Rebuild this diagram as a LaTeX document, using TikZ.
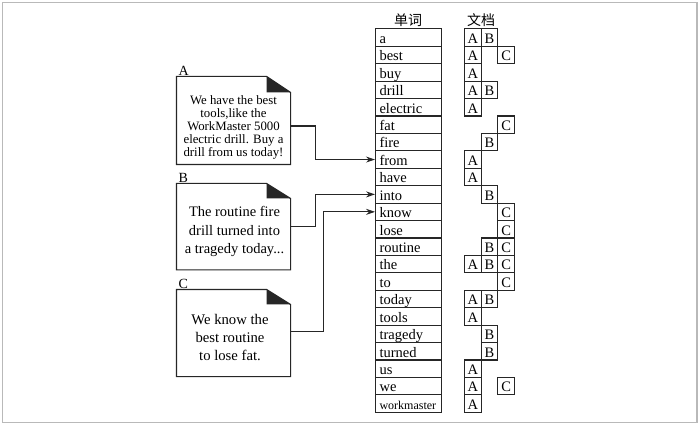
\documentclass[tikz,border=0pt]{standalone}
\usepackage{fontspec}
\setmainfont{Liberation Serif}
\newfontfamily\cjk{Noto Sans CJK SC}
\usetikzlibrary{arrows.meta}
\begin{document}
\begin{tikzpicture}[x=1pt,y=-1pt,line width=1.1pt,
  ink/.style={draw=black!85},
  word/.style={ink, anchor=north west, text width=57.7pt, inner xsep=4pt, inner ysep=0pt,
    minimum height=17.427pt, align=left, text height=12.5pt, text depth=1pt,
    font=\fontsize{14.5}{17}\selectfont},
  docbox/.style={ink, anchor=north west, minimum width=16.67pt, minimum height=17.427pt,
    inner sep=0pt, text height=12.5pt, text depth=1pt, font=\fontsize{14.5}{17}\selectfont},
  note/.style={minimum width=113pt, inner sep=0pt},
  conn/.style={ink, -{Stealth[length=9pt,width=6pt]}},
  lbl/.style={anchor=base west, inner sep=0pt, font=\fontsize{14}{16}\selectfont},
  head/.style={inner sep=0pt, font=\cjk\fontsize{14}{16}\selectfont}]
\useasboundingbox (0,0) rectangle (700,427);
\draw[gray!55, line width=1.5pt] (2.5,2.5) rectangle (697,422.5);

% headers
\node[head] (h1) at (408,20) {单词};
\node[head] (h2) at (481,20) {文档};

% word table and document columns
\foreach \w/\a/\b/\c [count=\i from 0] in {
  a/1/1/0, best/1/0/1, buy/1/0/0, drill/1/1/0, electric/1/0/0, fat/0/0/1,
  fire/0/1/0, from/1/0/0, have/1/0/0, into/0/1/0, know/0/0/1, lose/0/0/1,
  routine/0/1/1, the/1/1/1, to/0/0/1, today/1/1/0, tools/1/0/0, tragedy/0/1/0,
  turned/0/1/0, us/1/0/0, we/1/0/1, {\fontsize{12}{14}\selectfont workmaster}/1/0/0}{
  \pgfmathsetmacro\yy{28.3+\i*17.427}
  \node[word] (w\i) at (375,\yy) {\w};
  \ifnum\a=1 \node[docbox] (dA\i) at (464,\yy) {A};\fi
  \ifnum\b=1 \node[docbox] (dB\i) at (480.67,\yy) {B};\fi
  \ifnum\c=1 \node[docbox] (dC\i) at (497.33,\yy) {C};\fi
}

% document notes
\node[note, minimum height=87pt] (docA) at (233.5,120.5) {};
\node[note, minimum height=85.3pt] (docB) at (233.5,226.65) {};
\node[note, minimum height=86pt] (docC) at (233.5,333) {};
\foreach \d/\f in {docA/16, docB/15, docC/15}{
  \draw[ink] (\d.north west) -- ([xshift=-24pt]\d.north east) -- ([yshift=-\f pt]\d.north east)
    -- (\d.south east) -- (\d.south west) -- cycle;
  \fill[black!85] ([xshift=-24pt]\d.north east) -- ([xshift=-24pt,yshift=-\f pt]\d.north east)
    -- ([yshift=-\f pt]\d.north east) -- cycle;
}
\node[lbl] (lA) at (178,76) {A};
\node[lbl] (lB) at (178,182.5) {B};
\node[lbl] (lC) at (178,288.5) {C};

\node[align=center, inner sep=0pt, font=\fontsize{12.8}{12.8}\selectfont] (tA) at (233.5,127.5)
  {We have the best\\tools,like the\\WorkMaster 5000\\electric drill. Buy a\\drill from us today!};
\node[align=center, inner sep=0pt, font=\fontsize{14.5}{18.7}\selectfont] (tB) at (234.5,231.5)
  {The routine fire\\drill turned into\\a tragedy today...};
\node[align=center, inner sep=0pt, font=\fontsize{14.7}{17.8}\selectfont] (tC) at (230,337.5)
  {We know the\\best routine\\to lose fat.};

% connectors
\draw[conn] ([yshift=-5.5pt]docA.east) -- ++(25,0) |- (w7.west);
\draw[conn] (docB.east) -- ++(25,0) |- (w9.west);
\draw[conn] ([yshift=1.3pt]docC.east) -- ++(33.3,0) |- (w10.west);
\end{tikzpicture}
\end{document}
